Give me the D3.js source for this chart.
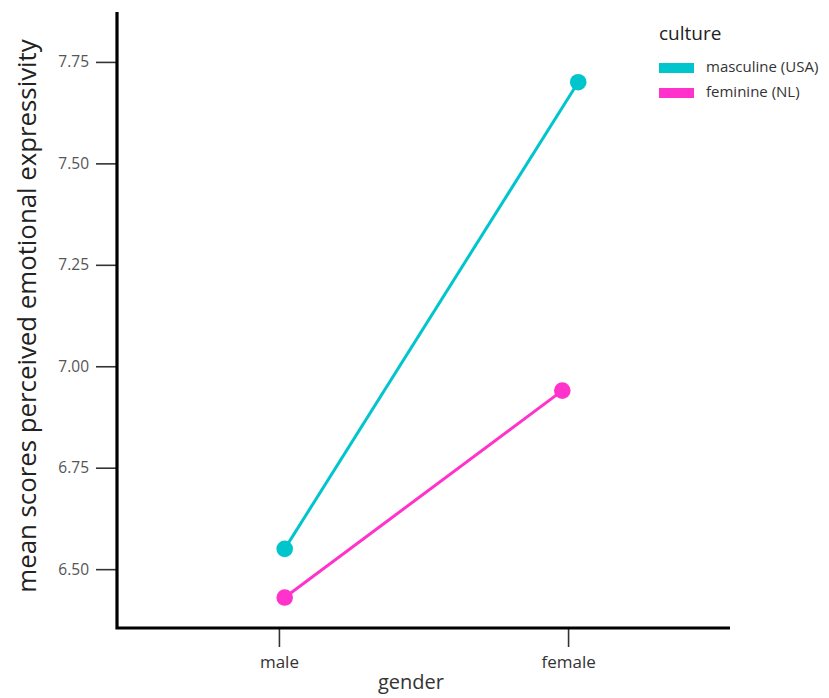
<!DOCTYPE html>
<html><head><meta charset="utf-8">
<script src="https://cdn.jsdelivr.net/npm/d3@7"></script>
<style>body{margin:0;background:#fff;}text{font-family:"Open Sans",sans-serif;}</style>
</head><body><svg id="c" width="829" height="698"></svg>
<script>
const genders = ["male", "female"];
const cultures = ["masculine (USA)", "feminine (NL)"];
const usaValues = [6.55, 7.70];
const nlValues = [6.43, 6.94];
const usaDodge = [0.02, 0.035];
const nlDodge = [0.02, -0.02];
const yTicks = [6.50, 6.75, 7.00, 7.25, 7.50, 7.75];
const colors = ["#00c5cd", "#ff33cc"];

const svg = d3.select("#c");
const x = d3.scalePoint().domain(genders).range([117, 730]).padding(0.56);
const step = x.step();
const y = d3.scaleLinear().domain([6.355, 7.873]).range([628, 12]);

// lines and points
const series = [
  {name: cultures[0], vals: usaValues, dodge: usaDodge, color: colors[0]},
  {name: cultures[1], vals: nlValues, dodge: nlDodge, color: colors[1]}
];
series.forEach(s => {
  const pts = genders.map((g, i) => [x(g) + s.dodge[i] * step, y(s.vals[i])]);
  svg.append("path").attr("d", d3.line()(pts)).attr("fill", "none")
    .attr("stroke", s.color).attr("stroke-width", 3);
  svg.selectAll(null).data(pts).enter().append("circle")
    .attr("cx", d => d[0]).attr("cy", d => d[1]).attr("r", 8.3).attr("fill", s.color);
});

// y axis
const yAxis = svg.append("g").attr("transform", "translate(117,0)")
  .call(d3.axisLeft(y).tickValues(yTicks).tickFormat(d3.format(".2f")).tickSize(21).tickPadding(7));
yAxis.select(".domain").remove();
yAxis.selectAll(".tick line").attr("stroke", "#333").attr("stroke-width", 1.6);
yAxis.selectAll(".tick text").attr("fill", "#555").style("font-size", "15.5px");

// x axis
const xAxis = svg.append("g").attr("transform", "translate(0,628)")
  .call(d3.axisBottom(x).tickSize(19).tickPadding(9));
xAxis.select(".domain").remove();
xAxis.selectAll(".tick line").attr("stroke", "#333").attr("stroke-width", 1.6);
xAxis.selectAll(".tick text").attr("fill", "#333").style("font-size", "17px");

// axis lines
svg.append("path").attr("d", `M117,12V628H730`).attr("fill", "none")
  .attr("stroke", "#000").attr("stroke-width", 3.2);

// titles
svg.append("text").attr("x", 411).attr("y", 689).attr("text-anchor", "middle")
  .attr("fill", "#333").style("font-size", "20px").text("gender");
svg.append("text").attr("transform", "translate(36,316) rotate(-90)").attr("text-anchor", "middle")
  .attr("fill", "#222").style("font-size", "25.8px").text("mean scores perceived emotional expressivity");

// legend
svg.append("text").attr("x", 659).attr("y", 40).attr("fill", "#222").style("font-size", "19px").text("culture");
cultures.forEach((c, i) => {
  svg.append("rect").attr("x", 659).attr("y", 63 + i * 25).attr("width", 35).attr("height", 10).attr("fill", colors[i]);
  svg.append("text").attr("x", 706).attr("y", 72 + i * 25).attr("fill", "#333").style("font-size", "15px").text(c);
});
</script></body></html>
